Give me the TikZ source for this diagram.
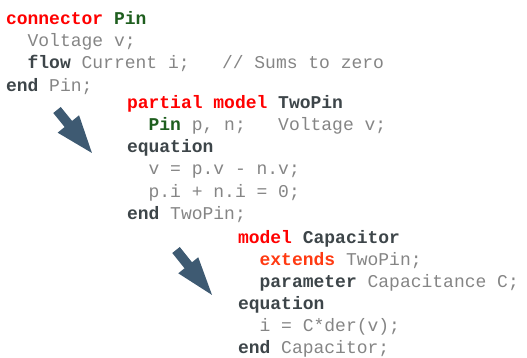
\documentclass[tikz,border=0pt]{standalone}
\usepackage{fontspec}
\setmonofont{Liberation Mono}
\definecolor{kwred}{HTML}{FF0000}
\definecolor{kwgreen}{HTML}{1E5E1E}
\definecolor{kwdark}{HTML}{3D4549}
\definecolor{txtgray}{HTML}{858585}
\definecolor{extorange}{HTML}{FF3A12}
\definecolor{arrowc}{HTML}{3E5A72}
\newcommand{\kr}[1]{\textbf{\color{kwred}#1}}
\newcommand{\kg}[1]{\textbf{\color{kwgreen}#1}}
\newcommand{\kd}[1]{\textbf{\color{kwdark}#1}}
\newcommand{\ko}[1]{\textbf{\color{extorange}#1}}
\begin{document}
\begin{tikzpicture}[x=1pt,y=-1pt,
  codeline/.style={anchor=base west,inner sep=0pt,outer sep=0pt,text=txtgray,
    font=\ttfamily\fontsize{18}{22}\selectfont},
  bigarrow/.style={fill=arrowc}]
\useasboundingbox (0,0) rectangle (527,358);
% block 1
\node[codeline] (l1) at (6,25) {\kr{connector}~\kg{Pin}};
\node[codeline] (l2) at (6,47) {~~Voltage~v;};
\node[codeline] (l3) at (6,69) {~~\kd{flow}~Current~i;~~~//~Sums~to~zero};
\node[codeline] (l4) at (6,91.5) {\kd{end}~Pin;};
% block 2
\node[codeline] (l5) at (127,109) {\kr{partial~model}~\kd{TwoPin}};
\node[codeline] (l6) at (127,131) {~~\kg{Pin}~p,~n;~~~Voltage~v;};
\node[codeline] (l7) at (127,153) {\kd{equation}};
\node[codeline] (l8) at (127,175) {~~v~=~p.v~-~n.v;};
\node[codeline] (l9) at (127,197) {~~p.i~+~n.i~=~0;};
\node[codeline] (l10) at (127,219) {\kd{end}~TwoPin;};
% block 3
\node[codeline] (l11) at (238,243) {\kr{model}~\kd{Capacitor}};
\node[codeline] (l12) at (238,265) {~~\ko{extends}~TwoPin;};
\node[codeline] (l13) at (238,287) {~~\kd{parameter}~Capacitance~C;};
\node[codeline] (l14) at (238,309) {\kd{equation}};
\node[codeline] (l15) at (238,331) {~~i~=~C*der(v);};
\node[codeline] (l16) at (238,353) {\kd{end}~Capacitor;};
% arrows
\begin{scope}[shift={(57,110)},rotate=-50.9]
\fill[bigarrow] (0,4.8) -- (18,4.8) -- (18,13.8) -- (55.4,0) -- (18,-13.8) -- (18,-4.8) -- (0,-4.8) -- cycle;
\end{scope}
\begin{scope}[shift={(176,250)},rotate=-51.3]
\fill[bigarrow] (0,4.8) -- (19.6,4.8) -- (19.6,12.8) -- (57.6,0) -- (19.6,-12.8) -- (19.6,-4.8) -- (0,-4.8) -- cycle;
\end{scope}
\end{tikzpicture}
\end{document}
